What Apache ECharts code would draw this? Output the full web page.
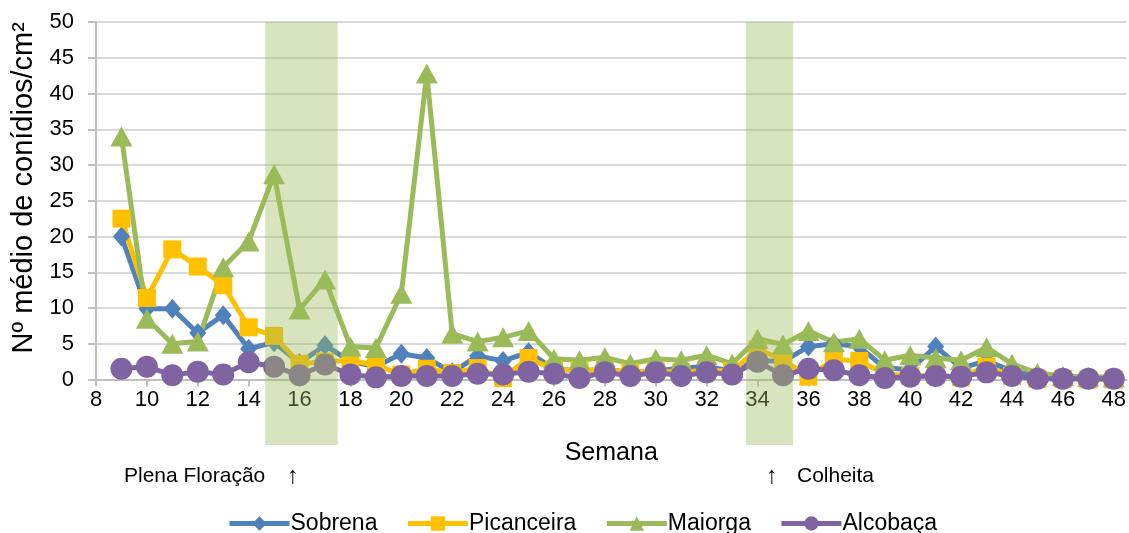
<!DOCTYPE html>
<html>
<head>
<meta charset="utf-8">
<script src="https://cdn.jsdelivr.net/npm/echarts@6/dist/echarts.min.js"></script>
<style>html,body{margin:0;padding:0;background:#fff}#c{width:1129px;height:533px}</style>
</head>
<body>
<div id="c"></div>
<script>
const weeks = [9,10,11,12,13,14,15,16,17,18,19,20,21,22,23,24,25,26,27,28,29,30,31,32,33,34,35,36,37,38,39,40,41,42,43,44,45,46,47,48];
const sobrena    = [20,9.9,9.9,6.5,9.0,4.3,5.2,2.3,4.8,2.5,1.8,3.6,3.0,1.0,3.3,2.6,3.8,1.5,1.2,1.4,1.0,1.2,1.6,1.8,1.2,2.7,2.5,4.6,5.0,4.6,1.6,1.4,4.6,1.6,2.6,1.2,0.5,0.3,0.2,0.1];
const picanceira = [22.5,11.4,18.2,15.8,13.2,7.3,6.1,2.2,2.5,2.7,2.0,0.7,1.5,0.9,1.6,0.2,3.0,1.4,1.3,1.4,1.0,1.2,1.0,1.3,1.2,4.2,2.8,0.4,2.8,2.6,0.8,0.5,0.6,0.3,1.8,0.5,0.1,0.1,0,0];
const maiorga    = [34,8.5,5.0,5.3,15.7,19.3,28.7,9.8,14.0,4.6,4.4,12.0,42.8,6.4,5.3,5.9,6.8,2.9,2.7,3.1,2.2,2.9,2.7,3.4,2.2,5.7,4.9,6.8,5.2,5.7,2.7,3.4,3.0,2.7,4.5,2.2,0.9,0.5,0.4,0.3];
const alcobaca   = [1.5,1.8,0.6,1.1,0.7,2.4,1.8,0.6,2.1,0.7,0.3,0.5,0.5,0.5,0.8,0.7,1.1,0.8,0.2,1.0,0.5,1.0,0.5,1.0,0.7,2.5,0.6,1.5,1.3,0.6,0.2,0.4,0.5,0.4,1.0,0.5,0.1,0.1,0.1,0.1];
const xTicks = [8,10,12,14,16,18,20,22,24,26,28,30,32,34,36,38,40,42,44,46,48];
const bands = [[14.65,17.5],[33.55,35.4]];
const seriesNames = ['Sobrena','Picanceira','Maiorga','Alcobaça'];

const FONT = '"Liberation Sans", Arial, sans-serif';
const pairs = arr => weeks.map((w,i)=>[w,arr[i]]);

const chart = echarts.init(document.getElementById('c'), null, {renderer:'canvas'});
const mk = (name, data, color, symbol, size) => ({
  name, type:'line', data: pairs(data), symbol, symbolSize: size,
  lineStyle:{color, width:5}, itemStyle:{color}, showSymbol:true, clip:false
});
chart.setOption({
  animation:false,
  textStyle:{fontFamily:FONT},
  grid:{left:96, top:22, right:1, bottom:153.5, containLabel:false},
  xAxis:{
    type:'value', min:8, max:48.5,
    name:'Semana', nameLocation:'middle', nameGap:61,
    nameTextStyle:{fontSize:25, color:'#000', fontFamily:FONT},
    axisLine:{show:true, lineStyle:{color:'#bfbfbf', width:2}},
    axisTick:{show:true, customValues:xTicks, length:7, lineStyle:{color:'#bfbfbf', width:2}},
    axisLabel:{customValues:xTicks, fontSize:22, color:'#000', margin:9, fontFamily:FONT},
    splitLine:{show:false}
  },
  yAxis:{
    type:'value', min:0, max:50, interval:5,
    name:'Nº médio de conídios/cm²', nameLocation:'middle', nameGap:45, nameRotate:90,
    nameTextStyle:{fontSize:29, color:'#000', fontFamily:FONT, padding:[0,0,0,26]},
    axisLine:{show:true, lineStyle:{color:'#bfbfbf', width:2}},
    axisTick:{show:true, length:8, lineStyle:{color:'#bfbfbf', width:2}},
    axisLabel:{fontSize:22, color:'#000', margin:22, fontFamily:FONT},
    splitLine:{show:true, lineStyle:{color:'#d9d9d9', width:2}}
  },
  legend:{
    data:seriesNames, left:222, top:507, itemWidth:60, itemHeight:18, itemGap:28,
    lineStyle:{width:5},
    textStyle:{fontSize:23, color:'#000', fontFamily:FONT, padding:[0,0,0,-4]}
  },
  series:[
    mk('Sobrena', sobrena, '#4f81bd', 'diamond', [17,20]),
    mk('Picanceira', picanceira, '#ffc000', 'rect', 18),
    mk('Maiorga', maiorga, '#9bbb59', 'triangle', [22,20]),
    mk('Alcobaça', alcobaca, '#8064a2', 'circle', 22)
  ]
});

const yTop = chart.convertToPixel({yAxisIndex:0}, 50);
const graphics = bands.map(b => {
  const x0 = chart.convertToPixel({xAxisIndex:0}, b[0]);
  const x1 = chart.convertToPixel({xAxisIndex:0}, b[1]);
  return {type:'rect', z:100, shape:{x:x0, y:yTop, width:x1-x0, height:445-yTop},
          style:{fill:'rgba(155,187,89,0.4)'}};
});
graphics.push(
  {type:'text', z:101, left:124, top:466, style:{text:'Plena Floração', font:'21px "Liberation Sans", Arial, sans-serif', fill:'#000'}},
  {type:'text', z:101, left:287, top:464, style:{text:'↑', font:'24px "Liberation Sans", Arial, sans-serif', fill:'#000'}},
  {type:'text', z:101, left:766, top:464, style:{text:'↑', font:'24px "Liberation Sans", Arial, sans-serif', fill:'#000'}},
  {type:'text', z:101, left:797, top:466, style:{text:'Colheita', font:'21px "Liberation Sans", Arial, sans-serif', fill:'#000'}}
);
chart.setOption({graphic:graphics});
</script>
</body>
</html>
